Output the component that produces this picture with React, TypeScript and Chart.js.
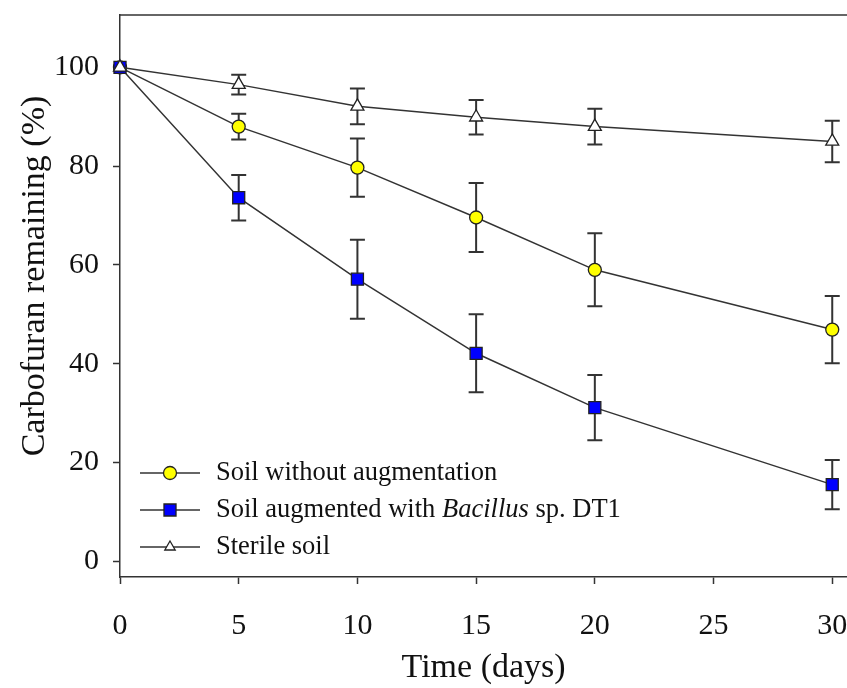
import React, { useEffect, useRef } from 'react';
import { Chart, registerables } from 'chart.js';

Chart.register(...registerables);

const DAYS = [0, 5, 10, 15, 20, 30];
const NO_AUG = [100, 88.0, 79.7, 69.6, 59.0, 46.9];
const NO_AUG_ERR = [0, 2.6, 5.9, 7.0, 7.4, 6.8];
const BACILLUS = [100, 73.6, 57.1, 42.1, 31.1, 15.5];
const BACILLUS_ERR = [0, 4.6, 8.0, 7.9, 6.6, 5.0];
const STERILE = [100, 96.5, 92.1, 89.9, 88.0, 85.0];
const STERILE_ERR = [0, 2.0, 3.6, 3.5, 3.6, 4.2];
const X_TICKS = [0, 5, 10, 15, 20, 25, 30];
const Y_TICKS = [0, 20, 40, 60, 80, 100];

const FONT = "'Liberation Serif', 'Times New Roman', serif";
const INK = '#222';

type Series = {
  legend: { text: string; italic?: boolean }[];
  data: number[];
  err: number[];
  style: 'circle' | 'rect' | 'triangle';
  radius: number;
  bg: string;
  order: number;
};

const SERIES: Series[] = [
  { legend: [{ text: 'Soil without augmentation' }], data: NO_AUG, err: NO_AUG_ERR, style: 'circle', radius: 6.5, bg: '#ffff00', order: 3 },
  {
    legend: [{ text: 'Soil augmented with ' }, { text: 'Bacillus', italic: true }, { text: ' sp. DT1' }],
    data: BACILLUS, err: BACILLUS_ERR, style: 'rect', radius: 8.5, bg: '#0000ff', order: 2,
  },
  { legend: [{ text: 'Sterile soil' }], data: STERILE, err: STERILE_ERR, style: 'triangle', radius: 7.5, bg: '#ffffff', order: 1 },
];

function drawMarker(ctx: CanvasRenderingContext2D, style: string, x: number, y: number, r: number, bg: string) {
  ctx.save();
  ctx.beginPath();
  if (style === 'circle') {
    ctx.arc(x, y, r, 0, Math.PI * 2);
  } else if (style === 'rect') {
    const s = Math.SQRT1_2 * r;
    ctx.rect(x - s, y - s, 2 * s, 2 * s);
  } else {
    const w = (r * Math.sqrt(3)) / 2;
    ctx.moveTo(x, y - r);
    ctx.lineTo(x + w, y + r / 2);
    ctx.lineTo(x - w, y + r / 2);
    ctx.closePath();
  }
  ctx.fillStyle = bg;
  ctx.fill();
  ctx.lineWidth = 1.3;
  ctx.strokeStyle = INK;
  ctx.stroke();
  ctx.restore();
}

const errorBarPlugin = {
  id: 'errorBars',
  beforeDatasetsDraw(chart: any) {
    const { ctx, scales } = chart;
    const xs = scales.x;
    const ys = scales.y;
    ctx.save();
    ctx.strokeStyle = '#333';
    ctx.lineWidth = 2;
    SERIES.forEach((s) => {
      DAYS.forEach((d, i) => {
        const e = s.err[i];
        if (!e) return;
        const x = xs.getPixelForValue(d);
        const yTop = ys.getPixelForValue(s.data[i] + e);
        const yBot = ys.getPixelForValue(s.data[i] - e);
        ctx.beginPath();
        ctx.moveTo(x, yTop);
        ctx.lineTo(x, yBot);
        ctx.moveTo(x - 7.5, yTop);
        ctx.lineTo(x + 7.5, yTop);
        ctx.moveTo(x - 7.5, yBot);
        ctx.lineTo(x + 7.5, yBot);
        ctx.stroke();
      });
    });
    ctx.restore();
  },
};

const framePlugin = {
  id: 'frameAndLegend',
  afterDraw(chart: any) {
    const { ctx, chartArea } = chart;
    ctx.save();
    ctx.strokeStyle = '#333';
    ctx.lineWidth = 1.5;
    ctx.beginPath();
    ctx.moveTo(chartArea.left, chartArea.top);
    ctx.lineTo(chartArea.right, chartArea.top);
    ctx.stroke();

    ctx.save();
    ctx.translate(35, 276);
    ctx.rotate(-Math.PI / 2);
    ctx.font = `34px ${FONT}`;
    ctx.fillStyle = '#111';
    ctx.textAlign = 'center';
    ctx.textBaseline = 'middle';
    ctx.fillText('Carbofuran remaining (%)', 0, 0);
    ctx.restore();

    const rowY = [473, 510, 547];
    SERIES.forEach((s, i) => {
      const y = rowY[i];
      ctx.strokeStyle = '#333';
      ctx.lineWidth = 1.5;
      ctx.beginPath();
      ctx.moveTo(140, y);
      ctx.lineTo(200, y);
      ctx.stroke();
      drawMarker(ctx, s.style, 170, y, s.style === 'triangle' ? 6 : s.radius, s.bg);
      let x = 216;
      ctx.fillStyle = '#111';
      ctx.textBaseline = 'middle';
      ctx.textAlign = 'left';
      s.legend.forEach((seg) => {
        ctx.font = `${seg.italic ? 'italic ' : ''}26.5px ${FONT}`;
        ctx.fillText(seg.text, x, y);
        x += ctx.measureText(seg.text).width;
      });
    });
    ctx.restore();
  },
};

const zeroPad = (s: any) => {
  s.paddingTop = 0;
  s.paddingBottom = 0;
  s.paddingLeft = 0;
  s.paddingRight = 0;
};

export default function App() {
  const ref = useRef<HTMLCanvasElement>(null);
  useEffect(() => {
    if (!ref.current) return;
    const chart = new Chart(ref.current, {
      type: 'line',
      data: {
        datasets: SERIES.map((s) => ({
          label: s.legend.map((g) => g.text).join(''),
          data: DAYS.map((d, i) => ({ x: d, y: s.data[i] })),
          borderColor: '#333',
          borderWidth: 1.5,
          pointStyle: s.style,
          pointRadius: s.radius,
          pointHoverRadius: s.radius,
          pointBackgroundColor: s.bg,
          pointBorderColor: INK,
          pointBorderWidth: 1.3,
          tension: 0,
          clip: false as any,
          order: s.order,
        })),
      },
      plugins: [errorBarPlugin, framePlugin],
      options: {
        animation: false,
        responsive: false,
        events: [],
        layout: { padding: { top: 15, left: 0, right: 0, bottom: 0 } },
        plugins: {
          legend: { display: false },
          tooltip: { enabled: false },
        },
        scales: {
          x: {
            type: 'linear',
            min: 0,
            max: 30.63,
            afterBuildTicks: (s: any) => {
              s.ticks = X_TICKS.map((v) => ({ value: v }));
            },
            afterFit: (s: any) => {
              s.height = 111;
              zeroPad(s);
            },
            grid: { display: true, drawOnChartArea: false, drawTicks: true, tickLength: 7, tickColor: '#333', tickWidth: 1.5 },
            border: { display: true, color: '#333', width: 1.5 },
            ticks: { font: { family: FONT, size: 30 }, color: '#111', padding: 24, maxRotation: 0, autoSkip: false },
            title: { display: true, text: 'Time (days)', font: { family: FONT, size: 34 }, color: '#111', padding: { top: 0, bottom: 0 } },
          },
          y: {
            type: 'linear',
            min: -3.2,
            max: 110.6,
            afterBuildTicks: (s: any) => {
              s.ticks = Y_TICKS.map((v) => ({ value: v }));
            },
            afterFit: (s: any) => {
              s.width = 120;
              zeroPad(s);
            },
            grid: { display: true, drawOnChartArea: false, drawTicks: true, tickLength: 7, tickColor: '#333', tickWidth: 1.5 },
            border: { display: true, color: '#333', width: 1.5 },
            ticks: { font: { family: FONT, size: 30 }, color: '#111', padding: 14, autoSkip: false },
          },
        },
      } as any,
    });
    return () => chart.destroy();
  }, []);
  return (
    <div style={{ position: 'fixed', left: 0, top: 0, width: 847, height: 688, overflow: 'hidden', background: '#fff' }}>
      <canvas ref={ref} width={857} height={688} style={{ display: 'block', width: 857, height: 688 }} />
    </div>
  );
}
